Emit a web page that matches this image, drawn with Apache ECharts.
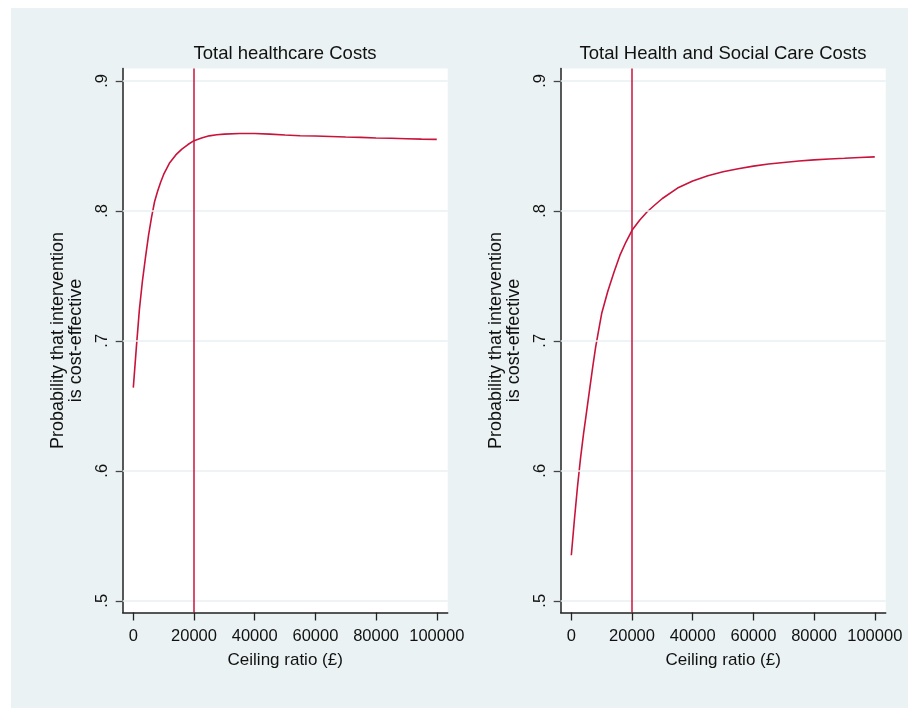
<!DOCTYPE html>
<html>
<head>
<meta charset="utf-8">
<script src="https://cdn.jsdelivr.net/npm/echarts@6/dist/echarts.min.js"></script>
<style>
  html, body { margin: 0; padding: 0; background: #ffffff; }
  #c { position: absolute; left: 11px; top: 8px; width: 897px; height: 700px; }
</style>
</head>
<body>
<div id="c"></div>
<script>
// ---- data ----
const ceiling = [0,1000,2000,3000,4000,5000,6000,7000,8000,9000,10000,12000,14000,16000,18000,20000,22500,25000,27500,30000,35000,40000,45000,50000,55000,60000,65000,70000,75000,80000,85000,90000,95000,100000];
const probHealthcare = [0.664,0.695,0.724,0.746,0.764,0.781,0.795,0.807,0.815,0.822,0.828,0.837,0.843,0.8475,0.851,0.854,0.856,0.8577,0.8585,0.859,0.8595,0.8595,0.859,0.8583,0.8578,0.8576,0.8572,0.8568,0.8565,0.856,0.8558,0.8555,0.8552,0.855];
const probHealthSocial = [0.535,0.562,0.587,0.609,0.628,0.645,0.662,0.679,0.695,0.708,0.721,0.738,0.7524,0.7657,0.776,0.785,0.7928,0.7993,0.8045,0.8095,0.8175,0.823,0.827,0.830,0.8324,0.8344,0.836,0.8372,0.8383,0.8392,0.8399,0.8404,0.841,0.8415];
const threshold = 20000;
const xTicks = [0,20000,40000,60000,80000,100000];
const yTicks = [0.5,0.6,0.7,0.8,0.9];
const titles = ['Total healthcare Costs', 'Total Health and Social Care Costs'];
const xTitle = 'Ceiling ratio (£)';
const yTitle = 'Probability that intervention\nis cost-effective';

// ---- styling ----
const RED = '#c8143c';
const FONT = 'Liberation Sans, Arial, Helvetica, sans-serif';
const AXIS = '#222222';
const GRIDC = '#e8f0f2';

const grids = [
  { left: 111.7, top: 60.5, width: 325, height: 544 },
  { left: 549.7, top: 60.5, width: 325, height: 544 }
];
const titleX = [274, 712];

function xAxisOpt(i) {
  return {
    type: 'value', gridIndex: i, min: -3500, max: 103600,
    splitLine: { show: false },
    axisLine: { show: true, onZero: false, lineStyle: { color: AXIS, width: 1.5 } },
    axisTick: { show: true, length: 8, customValues: xTicks, lineStyle: { color: AXIS, width: 1.3 } },
    axisLabel: { customValues: xTicks, formatter: v => String(v), margin: 15,
                 fontFamily: FONT, fontSize: 16.5, color: '#111' },
    name: xTitle, nameLocation: 'middle', nameGap: 39,
    nameTextStyle: { fontFamily: FONT, fontSize: 17, color: '#111' }
  };
}
function yAxisOpt(i) {
  return {
    type: 'value', gridIndex: i, min: 0.491, max: 0.9095,
    splitLine: { show: false },
    axisLine: { show: true, onZero: false, lineStyle: { color: AXIS, width: 1.5 } },
    axisTick: { show: true, length: 7, customValues: yTicks, lineStyle: { color: '#444', width: 1.3 } },
    axisLabel: { customValues: yTicks, rotate: 90, margin: 11.5,
                 formatter: v => v.toFixed(1).replace(/^0/, ''),
                 fontFamily: FONT, fontSize: 16.5, color: '#111' },
    name: yTitle, nameLocation: 'middle', nameRotate: 90, nameGap: 38,
    nameTextStyle: { fontFamily: FONT, fontSize: 18, lineHeight: 17.5, color: '#111', align: 'center' }
  };
}

function pairs(ys) { return ceiling.map((x, k) => [x, ys[k]]); }

const series = [];
[probHealthcare, probHealthSocial].forEach((ys, i) => {
  // gridlines (drawn beneath)
  series.push({
    type: 'line', xAxisIndex: i, yAxisIndex: i, data: [], z: 1, silent: true,
    markLine: {
      silent: true, symbol: 'none', label: { show: false },
      lineStyle: { color: GRIDC, width: 1.6, type: 'solid' },
      data: yTicks.map(v => ({ yAxis: v }))
    }
  });
  series.push({
    type: 'line', xAxisIndex: i, yAxisIndex: i, data: pairs(ys), z: 3,
    showSymbol: false, smooth: false, silent: true,
    lineStyle: { color: RED, width: 1.6 },
    markLine: {
      silent: true, symbol: 'none', label: { show: false },
      lineStyle: { color: RED, width: 1.5, type: 'solid' },
      data: [{ xAxis: threshold }]
    }
  });
});

const chart = echarts.init(document.getElementById('c'), null, { renderer: 'canvas' });
chart.setOption({
  animation: false,
  backgroundColor: '#eaf2f3',
  title: titles.map((t, i) => ({
    text: t, left: titleX[i], top: 36, textAlign: 'center', padding: 0,
    textStyle: { fontFamily: FONT, fontSize: 18.5, fontWeight: 'normal', color: '#111' }
  })),
  grid: grids.map(g => Object.assign({ show: true, backgroundColor: '#ffffff', borderWidth: 0 }, g)),
  xAxis: [xAxisOpt(0), xAxisOpt(1)],
  yAxis: [yAxisOpt(0), yAxisOpt(1)],
  series: series
});
</script>
</body>
</html>
